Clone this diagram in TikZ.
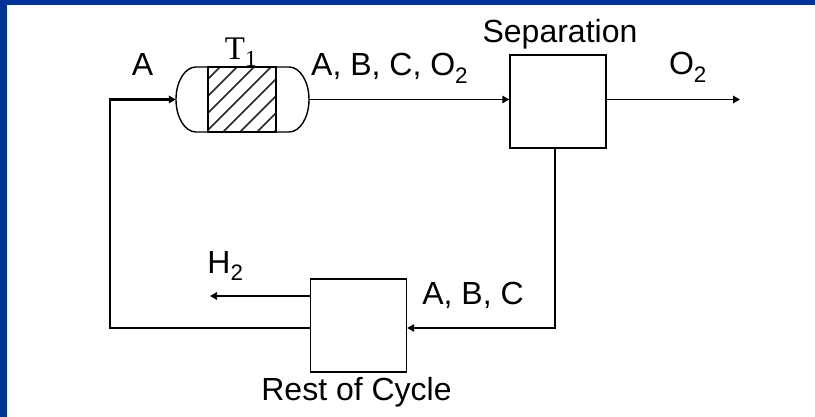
\documentclass[tikz,border=0pt]{standalone}
\usepackage{fontspec}
\setmainfont{Liberation Sans}
\newfontfamily\serifT{Liberation Serif}
\usetikzlibrary{arrows.meta}
\definecolor{frameblue}{RGB}{0,51,153}
\begin{document}
\begin{tikzpicture}[x=1pt,y=-1pt,
  arr/.style={line width=1.6pt, -{Triangle[length=7pt,width=7.5pt]}},
  looparr/.style={line width=2.2pt, -{Triangle[length=7pt,width=7.5pt]}},
  unitbox/.style={draw, line width=1.4pt, minimum width=96pt, minimum height=93pt, inner sep=0pt},
  lbl/.style={font=\fontsize{32}{36}\selectfont, inner sep=0pt, anchor=base}
]
\useasboundingbox (0,0) rectangle (815,417);
\fill[white] (0,0) rectangle (815,417);
\fill[frameblue] (0,0) rectangle (815,5);
\fill[frameblue] (0,0) rectangle (7,417);

% reactor
\node[minimum width=133pt, minimum height=65pt, inner sep=0pt] (reac) at (242.5,99.5) {};
\begin{scope}
  \clip (208,67) rectangle (276,132);
  \foreach \i in {-70,-53,...,80} {
    \draw[line width=1.6pt, black!85] (208+\i,132) -- ++(75,-75);
  }
\end{scope}
\draw[line width=1.4pt] (208,67) rectangle (276,132);
\draw[line width=1.4pt] (196,67) -- (289,67) arc[start angle=-90, end angle=90, x radius=20pt, y radius=-32.5pt] -- (196,132) arc[start angle=90, end angle=270, x radius=20pt, y radius=-32.5pt];

% units
\node[unitbox] (sep) at (558,101.5) {};
\node[unitbox] (rest) at (358.5,325.5) {};

% coordinates
\coordinate (lc) at (110,99.5);
\coordinate (o2end) at (740,99.5);
\coordinate (dn) at (555,328);
\coordinate (h2end) at (210,296);

% connectors
\draw[looparr] (rest.west |- dn) -| (lc) -- (reac.west);
\draw[arr] (reac.east) -- (reac.east -| sep.west);
\draw[arr] (sep.east |- o2end) -- (o2end);
\draw[arr] (sep.south -| dn) -- (dn) -- (rest.east |- dn);
\draw[arr] (rest.west |- h2end) -- (h2end);

% labels
\node[lbl] (la) at (142.5,76) {A};
\node[inner sep=0pt, anchor=base, font=\serifT\fontsize{33}{36}\selectfont] (lt) at (241,60) {T\textsubscript{1}};
\node[lbl, anchor=base west] (labco) at (311,76) {A, B, C, O\textsubscript{2}};
\node[lbl] (lsep) at (560,43) {Separation};
\node[lbl] (lo2) at (688,75) {O\textsubscript{2}};
\node[lbl] (lh2) at (225.5,273) {H\textsubscript{2}};
\node[lbl] (labc) at (473,305) {A, B, C};
\node[lbl] (lrest) at (356.5,400) {Rest of Cycle};
\end{tikzpicture}
\end{document}
